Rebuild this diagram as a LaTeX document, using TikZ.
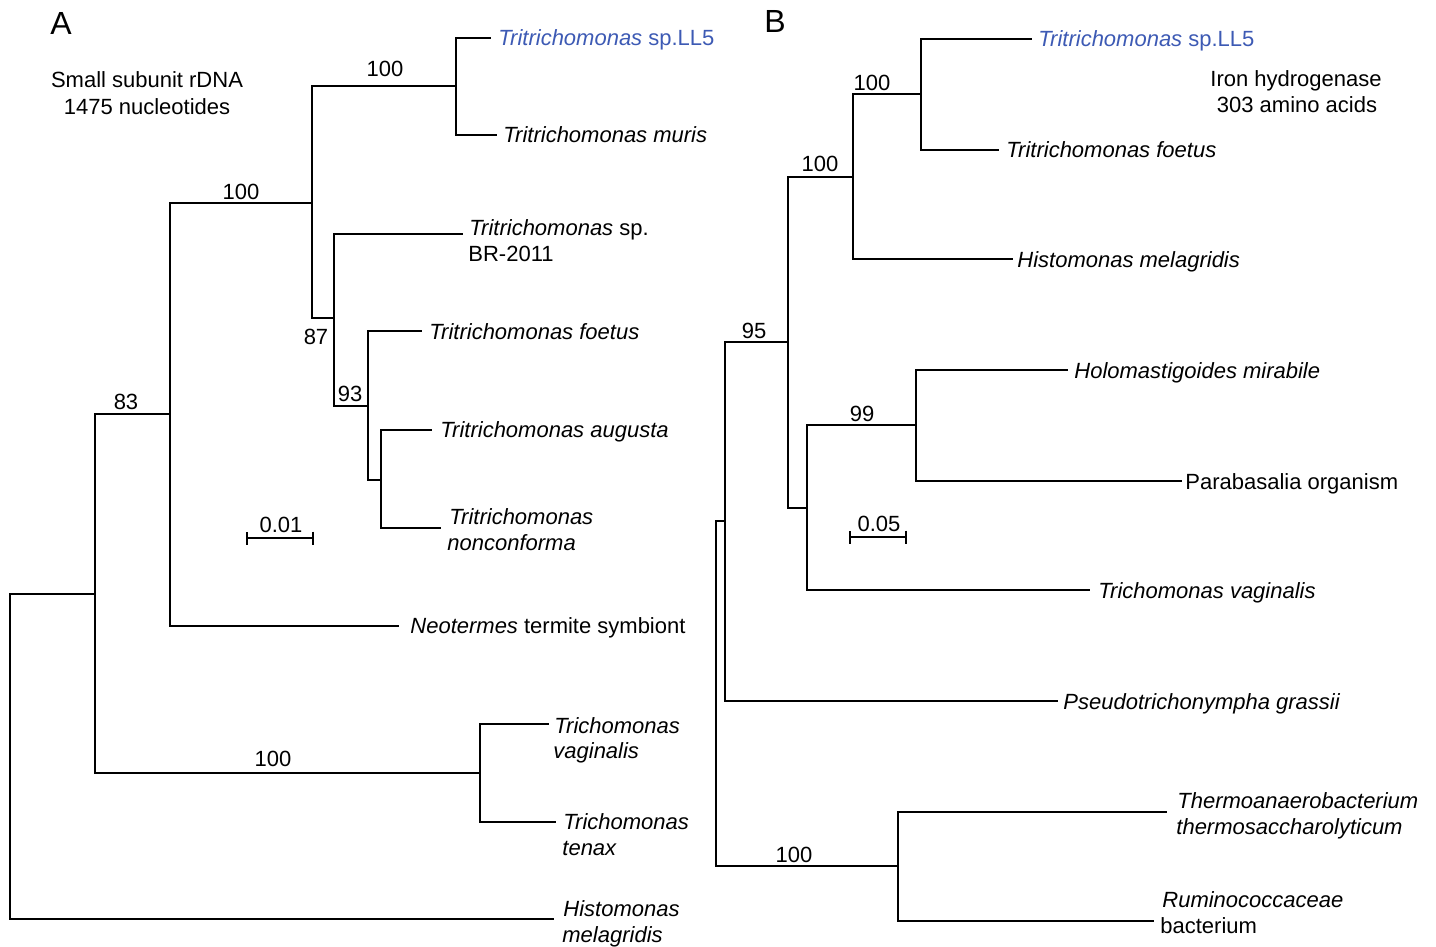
\documentclass[tikz,border=0pt]{standalone}
\usepackage{fontspec}
\setmainfont{Liberation Sans}
\usetikzlibrary{arrows.meta}
\definecolor{llblue}{RGB}{61,90,180}
\begin{document}
\begin{tikzpicture}[x=0.5pt,y=-0.5pt,
  br/.style={line width=0.9pt},
  lbl/.style={anchor=base west, inner sep=0pt, font=\fontsize{11}{13}\selectfont},
  bootval/.style={anchor=base, inner sep=0pt, font=\fontsize{11}{13}\selectfont},
  ctext/.style={anchor=base, inner sep=0pt, font=\fontsize{11}{13}\selectfont},
  panel/.style={anchor=base west, inner sep=0pt, font=\fontsize{16}{18}\selectfont},
  scalebar/.style={line width=0.9pt, {Bar[width=6.5pt]}-{Bar[width=6.5pt]}}]
\path[use as bounding box] (0,0) rectangle (1436,947);

% ---------------- Tree A ----------------
\node[panel] (pA) at (50,35) {A};
\node[ctext] (tA1) at (147,88) {Small subunit rDNA};
\node[ctext] (tA2) at (147,115) {1475 nucleotides};

\coordinate (rA) at (10,756);
\coordinate (a1) at (95,594);
\coordinate (a2) at (170,414);
\coordinate (a4) at (312,203);
\coordinate (a5) at (456,86);
\coordinate (a6) at (334,318);
\coordinate (a7) at (368,406);
\coordinate (a8) at (381,480);
\coordinate (a3) at (480,773);
\coordinate (eLLA) at (491,38);
\coordinate (eMur) at (497,135);
\coordinate (eBR) at (463,234);
\coordinate (eFoA) at (422,331);
\coordinate (eAug) at (432,430);
\coordinate (eNon) at (441,528);
\coordinate (eNeo) at (399,626);
\coordinate (eVag) at (549,724);
\coordinate (eTen) at (556,822);
\coordinate (eHiA) at (554,919);

\draw[br] (rA) |- (a1);
\draw[br] (rA) |- (eHiA);
\draw[br] (a1) |- (a2);
\draw[br] (a1) |- (a3);
\draw[br] (a2) |- (a4);
\draw[br] (a2) |- (eNeo);
\draw[br] (a4) |- (a5);
\draw[br] (a4) |- (a6);
\draw[br] (a5) |- (eLLA);
\draw[br] (a5) |- (eMur);
\draw[br] (a6) |- (eBR);
\draw[br] (a6) |- (a7);
\draw[br] (a7) |- (eFoA);
\draw[br] (a7) |- (a8);
\draw[br] (a8) |- (eAug);
\draw[br] (a8) |- (eNon);
\draw[br] (a3) |- (eVag);
\draw[br] (a3) |- (eTen);

\node[lbl, text=llblue] (lLLA) at (498,46) {\textit{Tritrichomonas} sp.LL5};
\node[lbl] (lMur) at (503,143) {\textit{Tritrichomonas muris}};
\node[lbl] (lBR1) at (469,235) {\textit{Tritrichomonas} sp.};
\node[lbl] (lBR2) at (468,261) {BR-2011};
\node[lbl] (lFoA) at (429,339) {\textit{Tritrichomonas foetus}};
\node[lbl] (lAug) at (440,437) {\textit{Tritrichomonas augusta}};
\node[lbl] (lNon1) at (449,524) {\textit{Tritrichomonas}};
\node[lbl] (lNon2) at (447,550) {\textit{nonconforma}};
\node[lbl] (lNeo) at (410,633) {\textit{Neotermes} termite symbiont};
\node[lbl] (lVag1) at (554,733) {\textit{Trichomonas}};
\node[lbl] (lVag2) at (553,758) {\textit{vaginalis}};
\node[lbl] (lTen1) at (563,829) {\textit{Trichomonas}};
\node[lbl] (lTen2) at (562,855) {\textit{tenax}};
\node[lbl] (lHiA1) at (563,916) {\textit{Histomonas}};
\node[lbl] (lHiA2) at (562,942) {\textit{melagridis}};

\node[bootval] (bA1) at (385,77) {100};
\node[bootval] (bA2) at (241,199) {100};
\node[bootval] (bA3) at (316,344) {87};
\node[bootval] (bA4) at (350,401) {93};
\node[bootval] (bA5) at (126,409) {83};
\node[bootval] (bA6) at (273,766) {100};

\coordinate (sA1) at (246,538);
\coordinate (sA2) at (314,538);
\draw[scalebar] (sA1) -- (sA2);
\node[bootval] (sAl) at (281,532) {0.01};

% ---------------- Tree B ----------------
\node[panel] (pB) at (764,33) {B};
\node[ctext] (tB1) at (1296,87) {Iron hydrogenase};
\node[ctext] (tB2) at (1297,113) {303 amino acids};

\coordinate (rB) at (716,690);
\coordinate (bX) at (725,521);
\coordinate (b95) at (788,342);
\coordinate (bA) at (853,177);
\coordinate (bB) at (921,94);
\coordinate (bC) at (807,508);
\coordinate (b99) at (916,425);
\coordinate (bT) at (898,866);
\coordinate (eLLB) at (1032,39);
\coordinate (eFoB) at (999,150);
\coordinate (eHiB) at (1013,259);
\coordinate (eHol) at (1068,370);
\coordinate (ePar) at (1182,481);
\coordinate (eTvB) at (1090,590);
\coordinate (ePse) at (1058,701);
\coordinate (eThe) at (1167,812);
\coordinate (eRum) at (1154,921);

\draw[br] (rB) |- (bX);
\draw[br] (rB) |- (bT);
\draw[br] (bX) |- (b95);
\draw[br] (bX) |- (ePse);
\draw[br] (b95) |- (bA);
\draw[br] (b95) |- (bC);
\draw[br] (bA) |- (bB);
\draw[br] (bA) |- (eHiB);
\draw[br] (bB) |- (eLLB);
\draw[br] (bB) |- (eFoB);
\draw[br] (bC) |- (b99);
\draw[br] (bC) |- (eTvB);
\draw[br] (b99) |- (eHol);
\draw[br] (b99) |- (ePar);
\draw[br] (bT) |- (eThe);
\draw[br] (bT) |- (eRum);

\node[lbl, text=llblue] (lLLB) at (1038,47) {\textit{Tritrichomonas} sp.LL5};
\node[lbl] (lFoB) at (1006,158) {\textit{Tritrichomonas foetus}};
\node[lbl] (lHiB) at (1017,267) {\textit{Histomonas melagridis}};
\node[lbl] (lHol) at (1074,378) {\textit{Holomastigoides mirabile}};
\node[lbl] (lPar) at (1185,489) {Parabasalia organism};
\node[lbl] (lTvB) at (1098,598) {\textit{Trichomonas vaginalis}};
\node[lbl] (lPse) at (1063,709) {\textit{Pseudotrichonympha grassii}};
\node[lbl] (lThe1) at (1177,808) {\textit{Thermoanaerobacterium}};
\node[lbl] (lThe2) at (1176,834) {\textit{thermosaccharolyticum}};
\node[lbl] (lRum1) at (1162,907) {\textit{Ruminococcaceae}};
\node[lbl] (lRum2) at (1160,933) {bacterium};

\node[bootval] (bB1) at (872,91) {100};
\node[bootval] (bB2) at (820,171) {100};
\node[bootval] (bB3) at (754,338) {95};
\node[bootval] (bB4) at (862,421) {99};
\node[bootval] (bB5) at (794,862) {100};

\coordinate (sB1) at (849,537);
\coordinate (sB2) at (907,537);
\draw[scalebar] (sB1) -- (sB2);
\node[bootval] (sBl) at (879,531) {0.05};
\end{tikzpicture}
\end{document}
